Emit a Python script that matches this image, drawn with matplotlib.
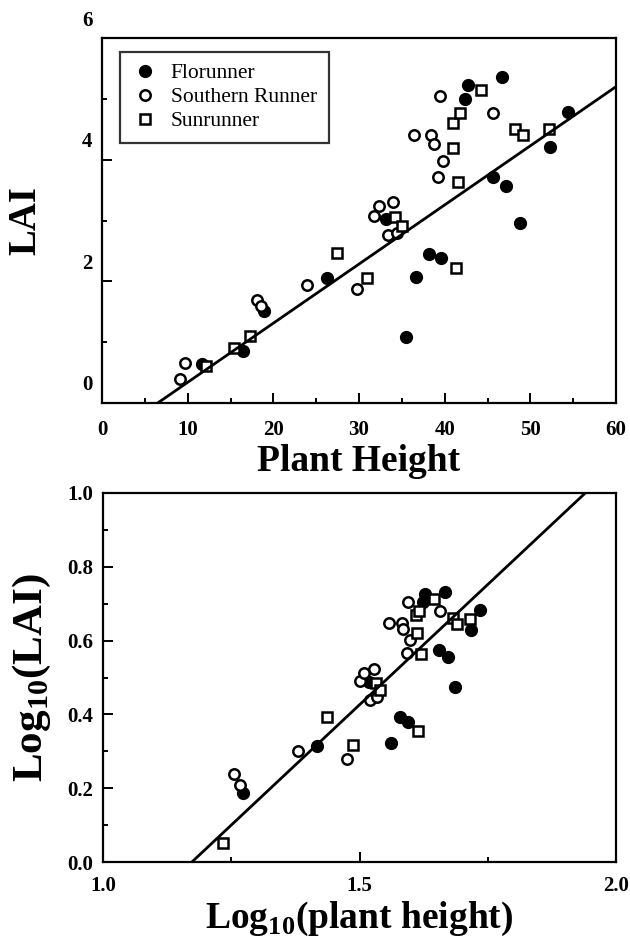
import numpy as np
import matplotlib.pyplot as plt
import matplotlib.transforms as mtransforms
from matplotlib.ticker import MultipleLocator, FormatStrFormatter

plt.rcParams['font.family'] = ['Liberation Serif', 'DejaVu Serif']
plt.rcParams['mathtext.fontset'] = 'custom'
plt.rcParams['mathtext.rm'] = 'Liberation Serif'
plt.rcParams['mathtext.bf'] = 'Liberation Serif:bold'

# --- top panel: LAI vs plant height ---
flo_h = [11.7, 16.5, 18.9, 26.3, 33.1, 35.5, 36.6, 38.2, 39.6, 42.4, 42.7, 45.6, 46.7, 47.2, 48.8, 52.3, 54.4]
flo_lai = [0.64, 0.85, 1.52, 2.05, 3.02, 1.09, 2.07, 2.45, 2.38, 5.00, 5.23, 3.72, 5.36, 3.57, 2.96, 4.21, 4.78]
sou_h = [9.1, 9.7, 18.1, 18.6, 23.9, 29.8, 31.7, 32.3, 33.4, 34.0, 34.4, 36.4, 38.4, 38.7, 39.2, 39.5, 39.8, 45.6]
sou_lai = [0.39, 0.65, 1.70, 1.60, 1.94, 1.87, 3.07, 3.24, 2.76, 3.31, 2.80, 4.41, 4.41, 4.26, 3.72, 5.05, 3.98, 4.77]
sun_h = [12.1, 15.4, 17.3, 27.4, 30.9, 34.2, 35.0, 41.0, 41.0, 41.3, 41.6, 41.8, 44.2, 48.2, 49.1, 52.2]
sun_lai = [0.61, 0.90, 1.10, 2.47, 2.05, 3.06, 2.91, 4.60, 4.19, 2.22, 3.63, 4.77, 5.15, 4.50, 4.41, 4.50]
fit1 = (-0.632, 0.0972)  # intercept, slope

# --- bottom panel: log10(LAI) vs log10(plant height) ---
lflo_h = [1.273, 1.417, 1.519, 1.561, 1.579, 1.595, 1.624, 1.628, 1.655, 1.667, 1.672, 1.686, 1.717, 1.735]
lflo_lai = [0.187, 0.314, 0.488, 0.322, 0.393, 0.379, 0.705, 0.726, 0.575, 0.732, 0.556, 0.474, 0.629, 0.683]
lsou_h = [1.255, 1.268, 1.380, 1.476, 1.501, 1.509, 1.520, 1.528, 1.534, 1.557, 1.583, 1.585, 1.592, 1.595, 1.598, 1.657]
lsou_lai = [0.238, 0.209, 0.301, 0.279, 0.490, 0.512, 0.439, 0.523, 0.447, 0.648, 0.648, 0.631, 0.566, 0.705, 0.602, 0.680]
lsun_h = [1.234, 1.436, 1.488, 1.532, 1.540, 1.610, 1.612, 1.614, 1.616, 1.619, 1.645, 1.682, 1.690, 1.715]
lsun_lai = [0.051, 0.393, 0.317, 0.486, 0.466, 0.669, 0.621, 0.355, 0.680, 0.564, 0.713, 0.661, 0.645, 0.659]
fit2 = (-1.530, 1.304)

fig = plt.figure(figsize=(6.3, 9.42), dpi=100)
ax1 = fig.add_axes([102/630, 1-403/942, 514/630, 365/942])
ax2 = fig.add_axes([103/630, 1-862/942, 513/630, 369/942])

def style(ax, xpad):
    for s in ax.spines.values():
        s.set_linewidth(1.6)
    ax.tick_params(which='both', direction='in', top=False, right=False, width=1.4,
                   labelsize=15, pad=7)
    ax.tick_params(axis='x', which='both', pad=xpad)
    ax.tick_params(which='major', length=7)
    ax.tick_params(which='minor', length=3.5)
    for lab in ax.get_xticklabels() + ax.get_yticklabels():
        lab.set_fontweight('bold')

def points(ax, fx, fy, cx, cy, sx, sy):
    ax.plot(fx, fy, 'o', color='black', ms=8.5, ls='none', label='Florunner')
    ax.plot(cx, cy, 'o', mfc='white', mec='black', mew=1.8, ms=7.5, ls='none', label='Southern Runner')
    ax.plot(sx, sy, 's', mfc='white', mec='black', mew=1.8, ms=7.5, ls='none', label='Sunrunner')

# top
points(ax1, flo_h, flo_lai, sou_h, sou_lai, sun_h, sun_lai)
xx = np.array([0, 60])
ax1.plot(xx, fit1[0] + fit1[1]*xx, color='black', lw=2)
ax1.set_xlim(0, 60)
ax1.set_ylim(0, 6)
ax1.xaxis.set_major_locator(MultipleLocator(10))
ax1.xaxis.set_minor_locator(MultipleLocator(5))
ax1.yaxis.set_major_locator(MultipleLocator(2))
ax1.yaxis.set_minor_locator(MultipleLocator(1))
style(ax1, 12)
offset = mtransforms.ScaledTranslation(0, 20/100, fig.dpi_scale_trans)
for lab in ax1.yaxis.get_majorticklabels():
    lab.set_transform(lab.get_transform() + offset)
ax1.set_xlabel('Plant Height', fontsize=27, fontweight='bold', labelpad=3)
ax1.set_ylabel('LAI', fontsize=28, fontweight='bold', labelpad=27)
leg = ax1.legend(loc='upper left', bbox_to_anchor=(0.035, 0.963), fontsize=15.5,
                 frameon=True, fancybox=False, edgecolor='black', handletextpad=0.6,
                 labelspacing=0.18, borderpad=0.55, handlelength=1.2, borderaxespad=0)
leg.get_frame().set_linewidth(1.6)

# bottom
points(ax2, lflo_h, lflo_lai, lsou_h, lsou_lai, lsun_h, lsun_lai)
xx = np.array([1.0, 2.0])
ax2.plot(xx, fit2[0] + fit2[1]*xx, color='black', lw=2)
ax2.set_xlim(1.0, 2.0)
ax2.set_ylim(0, 1.0)
ax2.xaxis.set_major_locator(MultipleLocator(0.5))
ax2.xaxis.set_minor_locator(MultipleLocator(0.25))
ax2.yaxis.set_major_locator(MultipleLocator(0.2))
ax2.yaxis.set_minor_locator(MultipleLocator(0.1))
ax2.xaxis.set_major_formatter(FormatStrFormatter('%.1f'))
ax2.yaxis.set_major_formatter(FormatStrFormatter('%.1f'))
style(ax2, 10)
ax2.set_xlabel(r'Log$_{\mathbf{10}}$(plant height)', fontsize=27, fontweight='bold', labelpad=3)
ax2.set_ylabel(r'Log$_{\mathbf{10}}$(LAI)', fontsize=31, fontweight='bold', labelpad=10)

fig.savefig('out.png', dpi=100)
